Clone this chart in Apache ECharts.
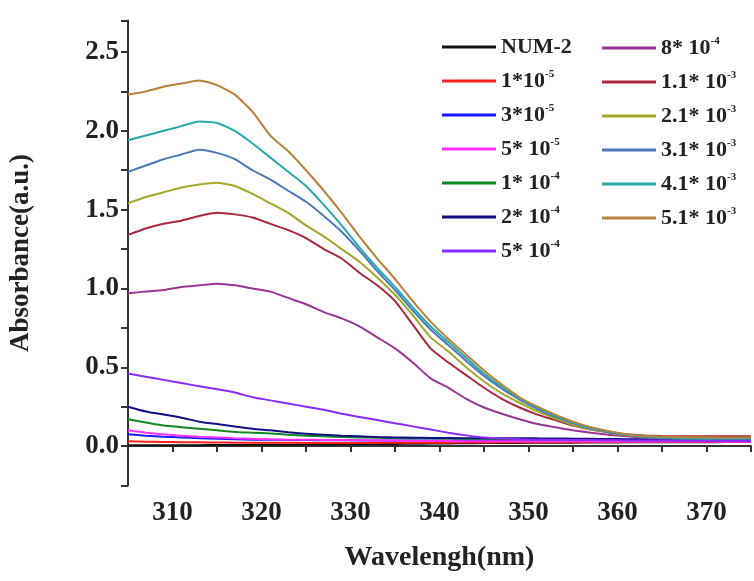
<!DOCTYPE html>
<html>
<head>
<meta charset="utf-8">
<script src="https://cdn.jsdelivr.net/npm/echarts@6/dist/echarts.min.js"></script>
<style>
html,body{margin:0;padding:0;background:#fff;}
#chart{width:754px;height:581px;}
</style>
</head>
<body>
<div id="chart"></div>
<script>
// ---- data ----
const wavelengths = [305,307,309,311,313,315,317,319,321,323,325,327,329,331,333,335,337,339,341,343,345,347,349,351,353,355,357,359,361,363,365,367,369,371,373,375];

const seriesNames = ['NUM-2','1*10^-5','3*10^-5','5* 10^-5','1* 10^-4','2* 10^-4','5* 10^-4','8* 10^-4','1.1* 10^-3','2.1* 10^-3','3.1* 10^-3','4.1* 10^-3','5.1* 10^-3'];
const seriesColors = ['#111111','#ff2020','#1a1aff','#ff30ff','#108a20','#101080','#8a2cff','#9a3596','#a8283c','#a6a62a','#4a78b8','#28a8a8','#b8823a'];

const num2   = [0.005,0.005,0.005,0.006,0.006,0.007,0.007,0.008,0.008,0.009,0.010,0.010,0.011,0.012,0.013,0.014,0.015,0.016,0.017,0.018,0.019,0.020,0.020,0.021,0.022,0.022,0.023,0.023,0.024,0.024,0.025,0.025,0.025,0.025,0.026,0.026];
const c1e5   = [0.030,0.028,0.026,0.025,0.024,0.023,0.022,0.022,0.021,0.021,0.020,0.020,0.020,0.020,0.020,0.021,0.021,0.022,0.022,0.023,0.023,0.024,0.024,0.025,0.025,0.025,0.026,0.026,0.026,0.027,0.027,0.027,0.028,0.028,0.028,0.028];
const c3e5   = [0.075,0.066,0.060,0.055,0.050,0.046,0.043,0.041,0.040,0.039,0.038,0.037,0.037,0.036,0.036,0.036,0.036,0.036,0.036,0.036,0.036,0.036,0.035,0.035,0.035,0.035,0.035,0.034,0.034,0.034,0.034,0.033,0.033,0.033,0.033,0.033];
const c5e5   = [0.100,0.085,0.075,0.066,0.060,0.055,0.050,0.046,0.043,0.041,0.040,0.039,0.038,0.037,0.036,0.035,0.034,0.033,0.032,0.031,0.031,0.030,0.030,0.030,0.030,0.030,0.030,0.029,0.029,0.029,0.029,0.029,0.029,0.028,0.028,0.028];
const c1e4   = [0.170,0.150,0.130,0.120,0.110,0.100,0.090,0.085,0.080,0.072,0.066,0.062,0.058,0.055,0.053,0.051,0.050,0.049,0.048,0.047,0.046,0.045,0.044,0.043,0.042,0.041,0.040,0.040,0.040,0.040,0.040,0.040,0.040,0.040,0.040,0.040];
const c2e4   = [0.250,0.220,0.200,0.180,0.155,0.140,0.125,0.110,0.100,0.088,0.078,0.072,0.066,0.062,0.058,0.055,0.053,0.052,0.051,0.050,0.050,0.050,0.050,0.049,0.048,0.047,0.046,0.045,0.044,0.043,0.042,0.041,0.040,0.040,0.040,0.040];
const c5e4   = [0.460,0.440,0.420,0.400,0.380,0.360,0.340,0.310,0.290,0.270,0.250,0.230,0.205,0.185,0.165,0.145,0.125,0.105,0.085,0.068,0.055,0.048,0.044,0.041,0.040,0.039,0.038,0.037,0.036,0.035,0.035,0.034,0.034,0.033,0.033,0.033];
const c8e4   = [0.970,0.980,0.990,1.010,1.020,1.030,1.020,1.000,0.980,0.940,0.900,0.850,0.810,0.760,0.690,0.620,0.530,0.430,0.370,0.300,0.245,0.205,0.170,0.140,0.120,0.100,0.085,0.072,0.062,0.055,0.050,0.050,0.050,0.050,0.050,0.050];
const c11e3  = [1.340,1.380,1.410,1.430,1.460,1.480,1.470,1.450,1.410,1.370,1.320,1.250,1.190,1.100,1.020,0.920,0.770,0.620,0.530,0.450,0.370,0.300,0.245,0.200,0.165,0.130,0.105,0.090,0.075,0.068,0.064,0.062,0.062,0.062,0.062,0.062];
const c21e3  = [1.540,1.580,1.610,1.640,1.660,1.670,1.650,1.600,1.540,1.480,1.400,1.330,1.250,1.170,1.070,0.960,0.830,0.690,0.600,0.500,0.410,0.335,0.275,0.220,0.175,0.135,0.105,0.085,0.068,0.058,0.053,0.050,0.050,0.050,0.050,0.050];
const c31e3  = [1.740,1.780,1.820,1.850,1.880,1.860,1.820,1.750,1.690,1.620,1.550,1.460,1.360,1.240,1.110,0.990,0.860,0.740,0.640,0.540,0.445,0.365,0.295,0.235,0.185,0.145,0.112,0.088,0.070,0.060,0.052,0.048,0.046,0.045,0.045,0.045];
const c41e3  = [1.940,1.970,2.000,2.030,2.060,2.050,2.000,1.920,1.830,1.740,1.650,1.530,1.400,1.260,1.130,1.010,0.880,0.760,0.660,0.560,0.460,0.375,0.305,0.245,0.192,0.150,0.116,0.092,0.074,0.062,0.055,0.052,0.050,0.050,0.050,0.050];
const c51e3  = [2.230,2.250,2.280,2.300,2.320,2.290,2.230,2.120,1.970,1.870,1.750,1.620,1.480,1.330,1.190,1.060,0.920,0.790,0.680,0.580,0.480,0.390,0.310,0.250,0.200,0.155,0.120,0.095,0.075,0.065,0.060,0.057,0.056,0.055,0.055,0.055];

const seriesValues = [num2,c1e5,c3e5,c5e5,c1e4,c2e4,c5e4,c8e4,c11e3,c21e3,c31e3,c41e3,c51e3];

const serif = 'Liberation Serif, Times New Roman, serif';
const axisColor = '#333';

const series = seriesNames.map((name, i) => ({
  name: name,
  type: 'line',
  symbol: 'none',
  smooth: 0.2,
  lineStyle: { width: 2, color: seriesColors[i] },
  itemStyle: { color: seriesColors[i] },
  data: wavelengths.map((w, j) => [w, seriesValues[i][j]])
}));

function legendFormatter(name) {
  const parts = name.split('^');
  if (parts.length === 1) return '{n|' + name + '}';
  return '{n|' + parts[0] + '}{s|' + parts[1] + '}';
}
const legendText = {
  fontFamily: serif, fontWeight: 'bold', fontSize: 22, color: '#222',
  rich: {
    n: { fontFamily: serif, fontWeight: 'bold', fontSize: 22, color: '#222', lineHeight: 24 },
    s: { fontFamily: serif, fontWeight: 'bold', fontSize: 11, color: '#222', verticalAlign: 'top' }
  }
};
function makeLegend(names, left) {
  return {
    data: names, orient: 'vertical', left: left, top: 36, padding: 0,
    icon: 'rect', itemWidth: 54, itemHeight: 3, itemGap: 11,
    formatter: legendFormatter,
    textStyle: legendText,
    selectedMode: false
  };
}

const chart = echarts.init(document.getElementById('chart'), null, { renderer: 'canvas' });
chart.setOption({
  backgroundColor: '#ffffff',
  animation: false,
  grid: { left: 122, right: 0, top: 20.5, bottom: 95.5, containLabel: false },
  legend: [ makeLegend(seriesNames.slice(0, 7), 442), makeLegend(seriesNames.slice(7), 602) ],
  xAxis: {
    type: 'value', min: 305, max: 375, interval: 5,
    name: 'Wavelengh(nm)', nameLocation: 'middle', nameGap: 58,
    nameTextStyle: { fontFamily: serif, fontWeight: 'bold', fontSize: 28, color: '#222' },
    axisLine: { show: true, lineStyle: { color: axisColor, width: 2 } },
    axisTick: { show: true, length: 6, lineStyle: { color: axisColor, width: 2 } },
    axisLabel: {
      margin: 14, fontFamily: serif, fontWeight: 'bold', fontSize: 27, color: '#222',
      showMaxLabel: true, showMinLabel: true,
      formatter: v => (Math.abs(v % 10) < 1e-6 ? String(v) : '')
    },
    splitLine: { show: false }
  },
  yAxis: {
    type: 'value', min: -0.25, max: 2.7, interval: 0.25,
    name: 'Absorbance(a.u.)', nameLocation: 'middle', nameGap: 93, nameRotate: 90,
    nameTextStyle: { fontFamily: serif, fontWeight: 'bold', fontSize: 27, color: '#222' },
    axisLine: { show: true, onZero: false, lineStyle: { color: axisColor, width: 2 } },
    axisTick: { show: true, length: 7, lineStyle: { color: axisColor, width: 2 } },
    axisLabel: {
      margin: 9, fontFamily: serif, fontWeight: 'bold', fontSize: 27, color: '#222',
      formatter: v => (Math.abs(v * 2 - Math.round(v * 2)) < 1e-6 && v >= 0 && v <= 2.5 ? v.toFixed(1) : '')
    },
    splitLine: { show: false }
  },
  series: series
});
</script>
</body>
</html>
